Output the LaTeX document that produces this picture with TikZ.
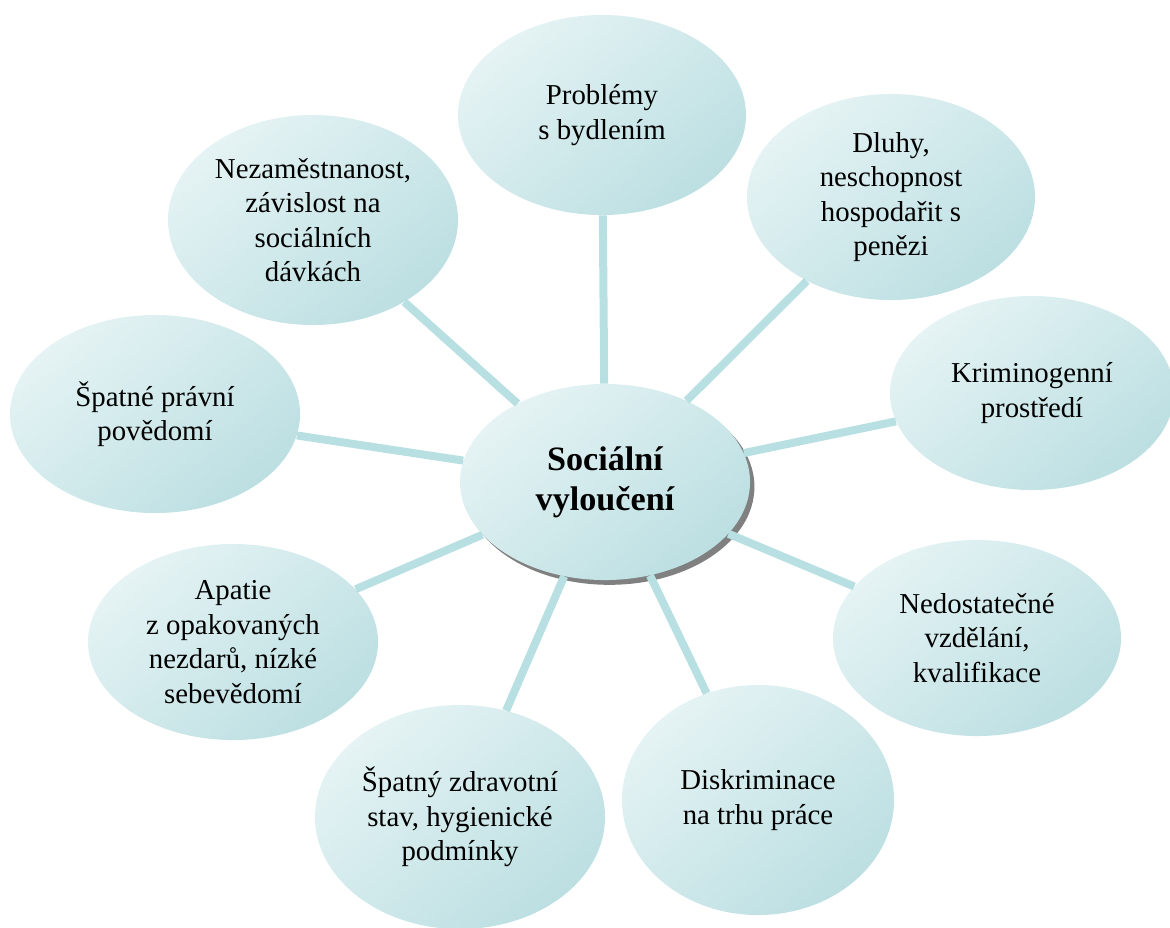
\documentclass[tikz,border=0pt]{standalone}
\usepackage{fontspec}
\setmainfont{Liberation Serif}
\newfontfamily\timesfont{Liberation Serif}
\usepackage{tikz}
\usetikzlibrary{shapes.geometric,shadows}
\usepackage{xcolor}
\definecolor{bubblelight}{RGB}{229,243,244}
\definecolor{bubblemid}{RGB}{219,238,240}
\definecolor{bubbledark}{RGB}{188,223,226}
\definecolor{spoke}{RGB}{184,223,226}
\tikzset{
    bubble/.style={ellipse, inner sep=0pt, top color=bubblelight, middle color=bubblemid, bottom color=bubbledark, shading angle=40, align=center, font=\timesfont\fontsize{20.5}{24.5}\selectfont},
    hub/.style={bubble, font=\timesfont\fontsize{24.3}{28.5}\selectfont\bfseries, drop shadow={shadow xshift=0.11cm, shadow yshift=-0.12cm, fill=black!50, opacity=1}},
    link/.style={line width=0.2cm, spoke},
}

\begin{document}
\begin{tikzpicture}[x=0.025cm, y=-0.025cm]
    \useasboundingbox (0,0) rectangle (1170,927);
    % Outer causes
    \node[bubble, minimum width=7.2cm, minimum height=5cm] (housing) at (602,115) {Problémy\\s bydlením};
    \node[bubble, minimum width=7.2cm, minimum height=5.15cm] (debts) at (891,197) {Dluhy,\\neschopnost\\hospodařit s\\penězi};
    \node[bubble, minimum width=7.1cm, minimum height=4.85cm] (crime) at (1032,393) {Kriminogenní\\prostředí};
    \node[bubble, minimum width=7.2cm, minimum height=4.9cm] (educ) at (977,638) {Nedostatečné\\vzdělání,\\kvalifikace};
    \node[bubble, minimum width=6.8cm, minimum height=5.75cm] (discrim) at (758,800) {Diskriminace\\na trhu práce};
    \node[bubble, minimum width=7.25cm, minimum height=5.6cm] (health) at (460,817) {Špatný zdravotní\\stav, hygienické\\podmínky};
    \node[bubble, minimum width=7.25cm, minimum height=4.9cm] (apathy) at (233,642) {Apatie\\z opakovaných\\nezdarů, nízké\\sebevědomí};
    \node[bubble, minimum width=7.25cm, minimum height=4.95cm] (legal) at (155,414) {Špatné právní\\povědomí};
    \node[bubble, minimum width=7.25cm, minimum height=5.25cm] (unemp) at (313,220) {Nezaměstnanost,\\závislost na\\sociálních\\dávkách};
    % Hub
    \node[hub, minimum width=7.25cm, minimum height=4.9cm] (core) at (605,482) {Sociální\\vyloučení};
    % Spokes
    \foreach \n in {housing,debts,crime,educ,discrim,health,apathy,legal,unemp} {
        \draw[link] (core) -- (\n);
    }
\end{tikzpicture}
\end{document}
